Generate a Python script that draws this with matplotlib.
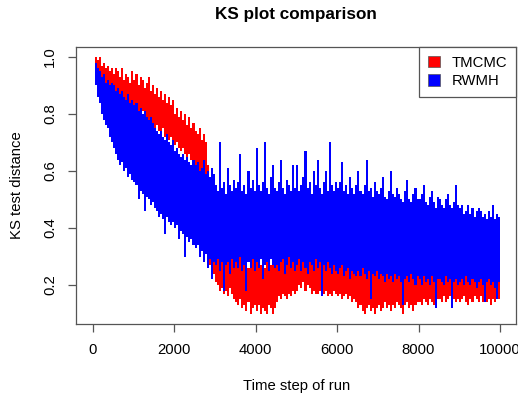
import numpy as np
import matplotlib
matplotlib.use("Agg")
import matplotlib.pyplot as plt
from matplotlib.patches import Patch

plt.rcParams['font.family'] = ['Liberation Sans', 'DejaVu Sans']

# KS distance over the run, kept as the highest and lowest value
# within each 50-step block (block starts 0 .. 10000)
step = list(range(0, 10001, 50))

tmcmc_hi = [
    1.00, 1.00, 0.99, 1.00, 0.97, 0.98, 0.96, 0.97, 0.95, 0.96,
    0.94, 0.96, 0.95, 0.93, 0.96, 0.92, 0.94, 0.93, 0.91, 0.95,
    0.92, 0.94, 0.90, 0.93, 0.92, 0.89, 0.91, 0.93, 0.88, 0.90,
    0.87, 0.89, 0.86, 0.88, 0.85, 0.87, 0.84, 0.86, 0.83, 0.85,
    0.80, 0.82, 0.79, 0.81, 0.78, 0.80, 0.76, 0.79, 0.75, 0.77,
    0.74, 0.73, 0.75, 0.71, 0.73, 0.70, 0.62, 0.45, 0.40, 0.38,
    0.35, 0.33, 0.36, 0.31, 0.34, 0.32, 0.30, 0.33, 0.31, 0.29,
    0.30, 0.28, 0.31, 0.27, 0.29, 0.30, 0.26, 0.28, 0.30, 0.27,
    0.28, 0.30, 0.27, 0.29, 0.26, 0.28, 0.30, 0.27, 0.29, 0.28,
    0.30, 0.32, 0.29, 0.33, 0.31, 0.34, 0.32, 0.36, 0.33, 0.37,
    0.40, 0.38, 0.42, 0.39, 0.43, 0.37, 0.40, 0.36, 0.38, 0.34,
    0.33, 0.31, 0.34, 0.30, 0.32, 0.33, 0.29, 0.31, 0.32, 0.30,
    0.31, 0.29, 0.32, 0.30, 0.28, 0.31, 0.29, 0.30, 0.27, 0.29,
    0.28, 0.29, 0.27, 0.30, 0.28, 0.26, 0.29, 0.27, 0.28, 0.30,
    0.29, 0.27, 0.30, 0.28, 0.29, 0.31, 0.27, 0.29, 0.28, 0.30,
    0.28, 0.30, 0.27, 0.29, 0.31, 0.28, 0.30, 0.27, 0.29, 0.28,
    0.29, 0.31, 0.28, 0.30, 0.29, 0.32, 0.28, 0.30, 0.31, 0.29,
    0.30, 0.28, 0.31, 0.29, 0.30, 0.32, 0.29, 0.31, 0.28, 0.30,
    0.29, 0.31, 0.28, 0.30, 0.32, 0.29, 0.31, 0.28, 0.30, 0.29,
    0.30, 0.28, 0.31, 0.29, 0.30, 0.28, 0.31, 0.29, 0.30, 0.28,
    0.27,
]

tmcmc_lo = [
    1.00, 0.95, 0.93, 0.94, 0.91, 0.92, 0.90, 0.89, 0.90, 0.88,
    0.87, 0.88, 0.86, 0.85, 0.87, 0.84, 0.85, 0.83, 0.84, 0.82,
    0.81, 0.82, 0.80, 0.79, 0.81, 0.78, 0.79, 0.77, 0.78, 0.76,
    0.75, 0.76, 0.74, 0.73, 0.75, 0.72, 0.73, 0.71, 0.72, 0.70,
    0.69, 0.70, 0.68, 0.67, 0.68, 0.66, 0.65, 0.66, 0.64, 0.63,
    0.62, 0.61, 0.60, 0.59, 0.60, 0.58, 0.33, 0.27, 0.25, 0.24,
    0.21, 0.20, 0.18, 0.19, 0.17, 0.18, 0.16, 0.19, 0.17, 0.15,
    0.14, 0.13, 0.15, 0.12, 0.13, 0.11, 0.14, 0.10, 0.12, 0.13,
    0.11, 0.13, 0.10, 0.12, 0.11, 0.10, 0.13, 0.12, 0.10, 0.12,
    0.14, 0.16, 0.15, 0.17, 0.16, 0.15, 0.17, 0.16, 0.18, 0.17,
    0.18, 0.20, 0.19, 0.21, 0.18, 0.20, 0.19, 0.17, 0.18, 0.17,
    0.17, 0.18, 0.16, 0.17, 0.18, 0.16, 0.17, 0.16, 0.18, 0.17,
    0.16, 0.17, 0.15, 0.16, 0.17, 0.15, 0.16, 0.14, 0.15, 0.14,
    0.12, 0.13, 0.11, 0.10, 0.12, 0.13, 0.11, 0.12, 0.10, 0.12,
    0.13, 0.11, 0.12, 0.14, 0.12, 0.13, 0.11, 0.13, 0.12, 0.14,
    0.13, 0.12, 0.10, 0.13, 0.14, 0.12, 0.13, 0.11, 0.13, 0.14,
    0.14, 0.13, 0.15, 0.14, 0.13, 0.15, 0.14, 0.13, 0.14, 0.15,
    0.15, 0.14, 0.16, 0.14, 0.15, 0.16, 0.13, 0.15, 0.14, 0.15,
    0.14, 0.15, 0.16, 0.14, 0.13, 0.15, 0.14, 0.16, 0.15, 0.14,
    0.16, 0.14, 0.15, 0.14, 0.15, 0.13, 0.15, 0.14, 0.16, 0.15,
    0.15,
]

rwmh_hi = [
    1.00, 0.98, 0.96, 0.95, 0.93, 0.94, 0.91, 0.92, 0.90, 0.91,
    0.90, 0.88, 0.89, 0.87, 0.88, 0.86, 0.85, 0.87, 0.84, 0.85,
    0.83, 0.84, 0.81, 0.82, 0.80, 0.81, 0.79, 0.78, 0.79, 0.77,
    0.75, 0.74, 0.73, 0.74, 0.72, 0.71, 0.73, 0.70, 0.69, 0.71,
    0.67, 0.68, 0.66, 0.65, 0.66, 0.64, 0.65, 0.63, 0.62, 0.64,
    0.62, 0.63, 0.60, 0.61, 0.64, 0.59, 0.60, 0.58, 0.61, 0.59,
    0.55, 0.53, 0.70, 0.54, 0.56, 0.52, 0.61, 0.55, 0.53, 0.57,
    0.54, 0.56, 0.66, 0.53, 0.55, 0.52, 0.60, 0.54, 0.57, 0.53,
    0.68, 0.55, 0.53, 0.56, 0.70, 0.54, 0.52, 0.58, 0.62, 0.54,
    0.53, 0.56, 0.64, 0.54, 0.52, 0.57, 0.55, 0.53, 0.62, 0.54,
    0.62, 0.53, 0.55, 0.58, 0.67, 0.54, 0.56, 0.52, 0.60, 0.55,
    0.64, 0.54, 0.52, 0.56, 0.60, 0.53, 0.70, 0.55, 0.53, 0.56,
    0.54, 0.56, 0.63, 0.53, 0.55, 0.52, 0.58, 0.54, 0.52, 0.55,
    0.60, 0.53, 0.52, 0.55, 0.64, 0.53, 0.54, 0.51, 0.56, 0.53,
    0.52, 0.54, 0.58, 0.51, 0.50, 0.53, 0.60, 0.52, 0.51, 0.54,
    0.52, 0.50, 0.49, 0.53, 0.57, 0.50, 0.49, 0.52, 0.54, 0.50,
    0.50, 0.52, 0.55, 0.49, 0.48, 0.51, 0.53, 0.49, 0.47, 0.51,
    0.50, 0.48, 0.47, 0.50, 0.52, 0.48, 0.47, 0.49, 0.55, 0.48,
    0.47, 0.48, 0.45, 0.46, 0.48, 0.45, 0.47, 0.44, 0.46, 0.47,
    0.46, 0.44, 0.45, 0.43, 0.46, 0.44, 0.48, 0.43, 0.45, 0.44,
    0.44,
]

rwmh_lo = [
    1.00, 0.90, 0.86, 0.84, 0.80, 0.78, 0.76, 0.75, 0.72, 0.70,
    0.68, 0.66, 0.64, 0.62, 0.63, 0.60, 0.61, 0.58, 0.59, 0.57,
    0.56, 0.55, 0.50, 0.53, 0.52, 0.46, 0.51, 0.50, 0.48, 0.49,
    0.47, 0.46, 0.44, 0.45, 0.43, 0.38, 0.44, 0.42, 0.41, 0.42,
    0.40, 0.41, 0.36, 0.39, 0.38, 0.30, 0.37, 0.35, 0.36, 0.34,
    0.33, 0.34, 0.30, 0.32, 0.28, 0.31, 0.26, 0.29, 0.22, 0.28,
    0.27, 0.29, 0.25, 0.28, 0.18, 0.27, 0.28, 0.24, 0.29, 0.26,
    0.28, 0.26, 0.30, 0.25, 0.27, 0.18, 0.28, 0.26, 0.29, 0.25,
    0.28, 0.26, 0.29, 0.22, 0.27, 0.28, 0.25, 0.29, 0.27, 0.26,
    0.27, 0.25, 0.28, 0.29, 0.24, 0.27, 0.30, 0.26, 0.28, 0.25,
    0.27, 0.29, 0.25, 0.28, 0.26, 0.24, 0.28, 0.27, 0.25, 0.29,
    0.26, 0.28, 0.16, 0.27, 0.25, 0.28, 0.26, 0.24, 0.27, 0.25,
    0.24, 0.26, 0.27, 0.23, 0.25, 0.26, 0.22, 0.25, 0.24, 0.23,
    0.25, 0.23, 0.26, 0.24, 0.22, 0.25, 0.15, 0.24, 0.23, 0.25,
    0.22, 0.24, 0.23, 0.21, 0.24, 0.22, 0.23, 0.21, 0.24, 0.22,
    0.23, 0.21, 0.13, 0.22, 0.23, 0.21, 0.24, 0.22, 0.20, 0.23,
    0.22, 0.20, 0.23, 0.21, 0.22, 0.20, 0.23, 0.21, 0.12, 0.22,
    0.22, 0.21, 0.20, 0.23, 0.21, 0.22, 0.12, 0.21, 0.22, 0.20,
    0.21, 0.22, 0.20, 0.23, 0.21, 0.20, 0.22, 0.21, 0.19, 0.21,
    0.22, 0.20, 0.14, 0.21, 0.22, 0.20, 0.21, 0.19, 0.15, 0.21,
    0.21,
]

series_names = ["TMCMC", "RWMH"]
series_colors = ["#ff0000", "#0000ff"]

fig = plt.figure(figsize=(5.18, 3.97), dpi=100)
ax = fig.add_axes([0.1475, 0.1844, 0.8492, 0.698])

# every 50-step block is a solid column between its lowest and highest value
ax.fill_between(step, tmcmc_lo, tmcmc_hi, step="post",
                color=series_colors[0], lw=0)
ax.fill_between(step, rwmh_lo, rwmh_hi, step="post",
                color=series_colors[1], lw=0)

ax.set_xlim(-400, 10400)
ax.set_ylim(0.064, 1.036)
ax.set_xticks([0, 2000, 4000, 6000, 8000, 10000])
ax.set_yticks([0.2, 0.4, 0.6, 0.8, 1.0])
ax.set_yticklabels(["0.2", "0.4", "0.6", "0.8", "1.0"], rotation=90, va="center")

for sp in ax.spines.values():
    sp.set_color("#555555")
    sp.set_linewidth(0.9)
ax.tick_params(direction="out", length=6, width=0.9, color="#555555",
               labelsize=10.7, pad=8)

ax.set_title("KS plot comparison", fontsize=12.3, fontweight="bold", pad=20)
ax.set_xlabel("Time step of run", fontsize=10.7, labelpad=16)
ax.set_ylabel("KS test distance", fontsize=10.7, labelpad=14)

handles = [Patch(facecolor=c, edgecolor="#555555", lw=0.5) for c in series_colors]
leg = ax.legend(handles, series_names, loc="upper right", fontsize=10.7,
                borderaxespad=0, fancybox=False, framealpha=1,
                handlelength=0.8, handleheight=0.8, handletextpad=0.8,
                labelspacing=0.3, borderpad=0.6)
leg.get_frame().set_edgecolor("#555555")
leg.get_frame().set_linewidth(0.9)

fig.savefig("out.png", dpi=100)
